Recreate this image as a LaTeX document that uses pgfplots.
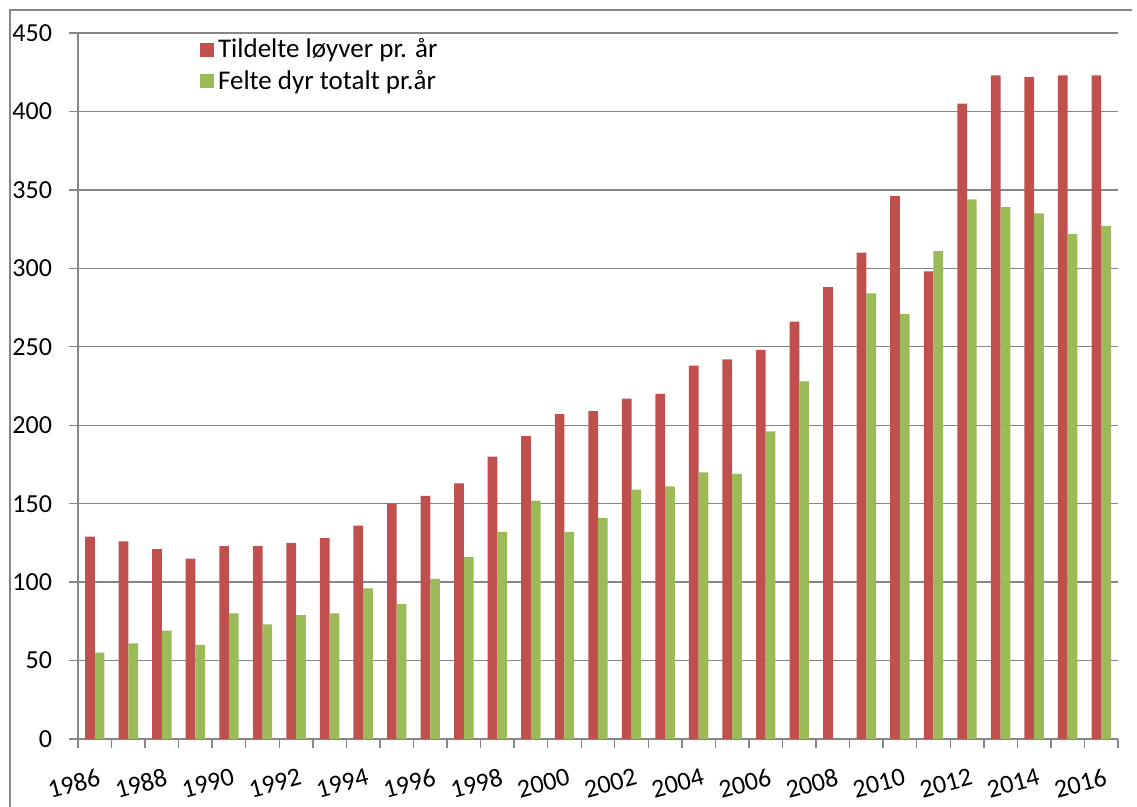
\documentclass[border=0pt]{standalone}
\usepackage{pgfplots}
\pgfplotsset{compat=1.18}
\usepackage{fontspec}
\setmainfont{Carlito}
\definecolor{redbar}{HTML}{C0504D}
\definecolor{greenbar}{HTML}{9BBB59}
\definecolor{gridgray}{RGB}{134,134,134}
\begin{document}
\begin{tikzpicture}
\useasboundingbox (0,0) rectangle (568.5pt,403.5pt);
\draw[gridgray, line width=1pt] (5pt,0) -- (5pt,398.5pt) -- (566pt,398.5pt);
\begin{axis}[
  at={(39pt,34pt)}, anchor=south west,
  scale only axis, width=520pt, height=353pt,
  ybar=0pt, bar width=4.85pt,
  xmin=-0.5, xmax=30.5, ymin=0, ymax=450,
  ytick={0,50,...,450},
  xtick={0,2,...,30},
  xticklabels={1986,1988,1990,1992,1994,1996,1998,2000,2002,2004,2006,2008,2010,2012,2014,2016},
  minor xtick={-0.5,0.5,...,30.5},
  major x tick style={draw=none},
  tick align=outside,
  major tick length=4.5pt, minor tick length=4.5pt,
  tick style={gridgray, line width=0.7pt},
  axis x line*=bottom, axis y line*=left,
  axis line style={gridgray, line width=0.7pt, -},
  ymajorgrids, grid style={gridgray, line width=0.7pt},
  /pgf/number format/assume math mode=true,
  ticklabel style={font=\fontsize{13}{15}\selectfont},
  yticklabel style={xshift=-5pt},
  xticklabel style={rotate=15, anchor=north east, xshift=2pt, yshift=-6.5pt},
  legend style={at={(0.117,0.998)}, anchor=north west, draw=none, fill=none,
    font=\fontsize{13.5}{15}\selectfont, row sep=0.5pt, inner sep=0pt},
  legend cell align=left,
  legend image code/.code={\fill[#1] (0pt,-3.5pt) rectangle (7pt,3.5pt);},
]
\addplot[fill=redbar, draw=none] coordinates {
(0,129) (1,126) (2,121) (3,115) (4,123) (5,123) (6,125) (7,128) (8,136) (9,150)
(10,155) (11,163) (12,180) (13,193) (14,207) (15,209) (16,217) (17,220) (18,238) (19,242)
(20,248) (21,266) (22,288) (23,310) (24,346) (25,298) (26,405) (27,423) (28,422) (29,423) (30,423)};
\addplot[fill=greenbar, draw=none] coordinates {
(0,55) (1,61) (2,69) (3,60) (4,80) (5,73) (6,79) (7,80) (8,96) (9,86)
(10,102) (11,116) (12,132) (13,152) (14,132) (15,141) (16,159) (17,161) (18,170) (19,169)
(20,196) (21,228) (22,0) (23,284) (24,271) (25,311) (26,344) (27,339) (28,335) (29,322) (30,327)};
\legend{Tildelte løyver pr. år, Felte dyr totalt pr.år}
\end{axis}
\end{tikzpicture}
\end{document}
